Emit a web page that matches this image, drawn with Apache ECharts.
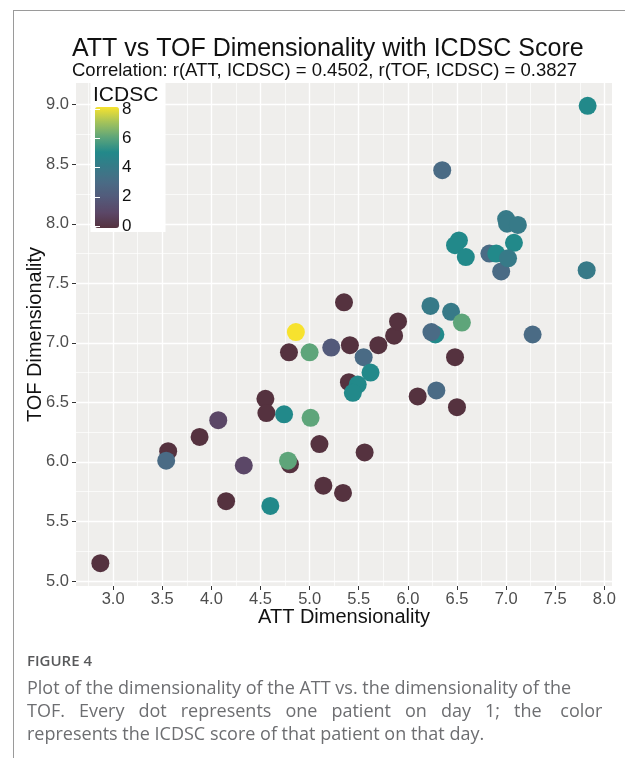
<!DOCTYPE html>
<html>
<head>
<meta charset="utf-8">
<script src="https://cdn.jsdelivr.net/npm/echarts@6/dist/echarts.min.js"></script>
<style>
  html, body { margin: 0; padding: 0; background: #ffffff; }
  #chart { width: 625px; height: 758px; }
</style>
</head>
<body>
<div id="chart"></div>
<script>
// ATT dimensionality per patient (day 1)
const att = [2.87, 3.56, 3.54, 3.88, 4.07, 4.33, 4.15, 4.55, 4.56, 4.74,
             4.60, 4.80, 4.78, 5.01, 5.10, 5.14, 4.86, 4.79, 5.00, 5.22,
             5.35, 5.41, 5.55, 5.70, 5.86, 5.90, 5.62, 5.40, 5.49, 5.44,
             5.56, 5.34, 6.23, 6.44, 6.55, 6.28, 6.24, 6.48, 6.29, 6.10,
             6.50, 7.27, 7.82, 7.83, 6.35, 7.00, 7.01, 7.12, 7.08, 6.52,
             6.48, 6.59, 6.83, 6.90, 6.95, 7.02];
// TOF dimensionality per patient (day 1)
const tof = [5.15, 6.09, 6.01, 6.21, 6.35, 5.97, 5.67, 6.53, 6.41, 6.40,
             5.63, 5.98, 6.01, 6.37, 6.15, 5.80, 7.09, 6.92, 6.92, 6.96,
             7.34, 6.98, 6.88, 6.98, 7.06, 7.18, 6.75, 6.67, 6.65, 6.58,
             6.08, 5.74, 7.31, 7.26, 7.17, 7.07, 7.09, 6.88, 6.60, 6.55,
             6.46, 7.07, 7.61, 8.99, 8.45, 8.04, 8.00, 7.99, 7.84, 7.86,
             7.82, 7.72, 7.75, 7.75, 7.60, 7.71];
// ICDSC score per patient (day 1)
const icdsc = [0, 0, 3, 0, 1, 1, 0, 0, 0, 5,
               5, 0, 6, 6, 0, 0, 8, 0, 6, 2,
               0, 0, 3, 0, 0, 0, 5, 0, 5, 5,
               0, 0, 4, 4, 6, 5, 3, 0, 3, 0,
               0, 3, 4, 5, 3, 4, 4, 4, 5, 5,
               5, 5, 3, 5, 3, 4];

const xTicks = [3.0, 3.5, 4.0, 4.5, 5.0, 5.5, 6.0, 6.5, 7.0, 7.5, 8.0];
const xMinorTicks = [2.75, 3.25, 3.75, 4.25, 4.75, 5.25, 5.75, 6.25, 6.75, 7.25, 7.75];
const yTicks = [5.0, 5.5, 6.0, 6.5, 7.0, 7.5, 8.0, 8.5, 9.0];
const yMinorTicks = [5.25, 5.75, 6.25, 6.75, 7.25, 7.75, 8.25, 8.75];
const scoreTicks = [0, 2, 4, 6, 8];

const palette = ['#55323f', '#5b4767', '#535a7a', '#4a6b85', '#377a88',
                 '#22898a', '#5ea57a', '#a5c35a', '#f7e22e'];

// 5% padding around the data range on both axes
function padded(arr) {
  const lo = Math.min(...arr), hi = Math.max(...arr), pad = (hi - lo) * 0.05;
  return [lo - pad, hi + pad];
}
const [xMin, xMax] = padded(att);
const [yMin, yMax] = padded(tof);

const points = att.map((x, i) => [x, tof[i], icdsc[i]]);

const FONT = 'Liberation Sans';
const tickLabel = { color: '#4d4d4d', fontSize: 16.5, fontFamily: FONT, formatter: v => Number(v).toFixed(1) };
const CAPTION_FONT = '18px "Open Sans"';

const chart = echarts.init(document.getElementById('chart'), null, { renderer: 'canvas' });

chart.setOption({
  animation: false,
  backgroundColor: '#ffffff',
  title: {
    left: 72, top: 37, itemGap: -1, padding: 0,
    text: 'ATT vs TOF Dimensionality with ICDSC Score',
    subtext: 'Correlation: r(ATT, ICDSC) = 0.4502, r(TOF, ICDSC) = 0.3827',
    textStyle: { fontFamily: FONT, fontSize: 25, fontWeight: 'normal', color: '#111' },
    subtextStyle: { fontFamily: FONT, fontSize: 18.5, color: '#111' }
  },
  grid: [
    { left: 76, top: 83, width: 536, height: 503, show: true, backgroundColor: '#efeeec', borderWidth: 0 },
    { left: 95, top: 109, width: 24, height: 117, show: false }
  ],
  xAxis: [
    {
      type: 'value', gridIndex: 0, min: xMin, max: xMax,
      name: 'ATT Dimensionality', nameLocation: 'middle', nameGap: 21, nameMoveOverlap: false,
      nameTextStyle: { fontFamily: FONT, fontSize: 20, color: '#111' },
      axisLine: { show: false },
      axisTick: { show: true, length: 4, lineStyle: { color: '#333' }, customValues: xTicks },
      axisLabel: Object.assign({ margin: 5, customValues: xTicks }, tickLabel),
      splitLine: { show: true, lineStyle: { color: '#ffffff', width: 1.4 } }
    },
    {
      type: 'value', gridIndex: 0, min: xMin, max: xMax, position: 'bottom',
      axisLine: { show: false },
      axisTick: { show: false, customValues: xMinorTicks },
      axisLabel: { show: false, customValues: xMinorTicks },
      splitLine: { show: true, lineStyle: { color: '#ffffff', width: 0.7 } }
    },
    {
      type: 'value', gridIndex: 1, min: 0, max: 1, show: false
    }
  ],
  yAxis: [
    {
      type: 'value', gridIndex: 0, min: yMin, max: yMax,
      name: 'TOF Dimensionality', nameLocation: 'middle', nameGap: 31, nameMoveOverlap: false,
      nameTextStyle: { fontFamily: FONT, fontSize: 20, color: '#111' },
      axisLine: { show: false },
      axisTick: { show: true, length: 4, lineStyle: { color: '#333' }, customValues: yTicks },
      axisLabel: Object.assign({ margin: 7, customValues: yTicks }, tickLabel),
      splitLine: { show: true, lineStyle: { color: '#ffffff', width: 1.4 } }
    },
    {
      type: 'value', gridIndex: 0, min: yMin, max: yMax, position: 'left',
      axisLine: { show: false },
      axisTick: { show: false, customValues: yMinorTicks },
      axisLabel: { show: false, customValues: yMinorTicks },
      splitLine: { show: true, lineStyle: { color: '#ffffff', width: 0.7 } }
    },
    {
      // colour bar scale (right side, with labels)
      type: 'value', gridIndex: 1, min: 0, max: 8, position: 'right', z: 10,
      axisLine: { show: false },
      axisTick: { show: true, inside: true, length: 5, lineStyle: { color: '#ffffff', width: 1 }, customValues: scoreTicks },
      axisLabel: { show: true, margin: 3, color: '#111', fontSize: 17, fontFamily: FONT, customValues: scoreTicks },
      splitLine: { show: false }
    },
    {
      // colour bar ticks on the left edge
      type: 'value', gridIndex: 1, min: 0, max: 8, position: 'left', z: 10,
      axisLine: { show: false },
      axisTick: { show: true, inside: true, length: 5, lineStyle: { color: '#ffffff', width: 1 }, customValues: scoreTicks },
      axisLabel: { show: false, customValues: scoreTicks },
      splitLine: { show: false }
    }
  ],
  visualMap: {
    type: 'continuous', min: 0, max: 8, dimension: 2, seriesIndex: 0,
    inRange: { color: palette },
    left: 95, top: 107, itemWidth: 24, itemHeight: 121, padding: 0,
    calculable: false, hoverLink: false, z: 6,
    textStyle: { color: 'transparent' }
  },
  graphic: [
    { type: 'rect', z: 3, shape: { x: 90.5, y: 83, width: 75, height: 149 }, style: { fill: '#ffffff' } },
    { type: 'text', z: 4, x: 93, y: 85, style: { text: 'ICDSC', font: '21px "Liberation Sans"', fill: '#111' } },
    { type: 'line', z: 1, shape: { x1: 13.5, y1: 10, x2: 13.5, y2: 758 }, style: { stroke: '#9a9a9a', lineWidth: 1 } },
    { type: 'line', z: 1, shape: { x1: 13, y1: 10.5, x2: 625, y2: 10.5 }, style: { stroke: '#9a9a9a', lineWidth: 1 } },
    { type: 'text', x: 27, y: 662, style: { text: 'FIGURE 4', font: '600 15px "Open Sans"', fill: '#58595b', verticalAlign: 'middle' } },
    { type: 'text', x: 27, y: 689, style: { text: 'Plot of the dimensionality of the ATT vs. the dimensionality of the', font: CAPTION_FONT, fill: '#6d6e71', verticalAlign: 'middle' } },
    { type: 'text', x: 27, y: 712, style: { text: 'TOF.   Every   dot   represents   one   patient   on   day   1;   the    color', font: CAPTION_FONT, fill: '#6d6e71', verticalAlign: 'middle' } },
    { type: 'text', x: 27, y: 735, style: { text: 'represents the ICDSC score of that patient on that day.', font: CAPTION_FONT, fill: '#6d6e71', verticalAlign: 'middle' } }
  ],
  series: [
    {
      type: 'scatter', xAxisIndex: 0, yAxisIndex: 0,
      data: points, symbolSize: 18,
      itemStyle: { opacity: 1 },
      emphasis: { disabled: true }
    }
  ]
});
</script>
</body>
</html>
